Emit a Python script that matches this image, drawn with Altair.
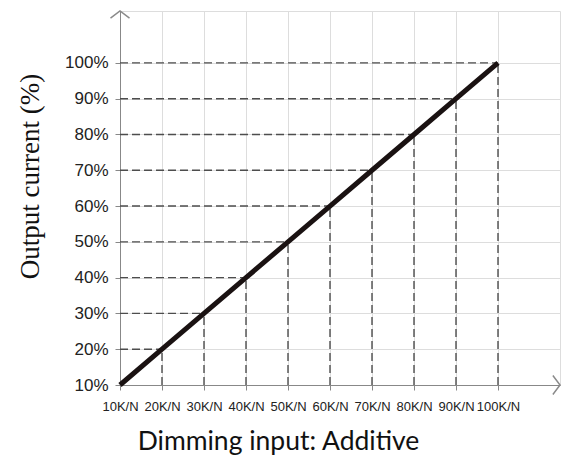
import altair as alt
import pandas as pd

# ---- data ----
x_vals = [10, 20, 30, 40, 50, 60, 70, 80, 90, 100]
y_vals = [10, 20, 30, 40, 50, 60, 70, 80, 90, 100]
x_tick_labels = ["10K/N", "20K/N", "30K/N", "40K/N", "50K/N",
                 "60K/N", "70K/N", "80K/N", "90K/N", "100K/N"]
y_tick_labels = ["10%", "20%", "30%", "40%", "50%",
                 "60%", "70%", "80%", "90%", "100%"]
x_title = "Dimming input: Additive"
y_title = "Output current (%)"

X_MIN, X_MAX = 10, 114.76
Y_MIN, Y_MAX = 10, 114.5

df = pd.DataFrame({"x": x_vals, "y": y_vals})
df["x0"] = X_MIN
df["y0"] = Y_MIN

arrows = pd.DataFrame({"x": [X_MIN, X_MAX], "y": [Y_MAX, Y_MIN], "angle": [0, 90]})

x_expr = "[" + ",".join("'%s'" % s for s in x_tick_labels) + "][round(datum.value/10) - 1]"
y_expr = "[" + ",".join("'%s'" % s for s in y_tick_labels) + "][round(datum.value/10) - 1]"

xs = alt.Scale(domain=[X_MIN, X_MAX], nice=False, zero=False)
ys = alt.Scale(domain=[Y_MIN, Y_MAX], nice=False, zero=False)

x_axis = alt.Axis(values=x_vals, labelExpr=x_expr, title=x_title,
                  labelFont="Liberation Sans", labelFontSize=13, labelColor="#222222",
                  labelPadding=10, labelFlush=False, labelOverlap=False, labelBound=False,
                  titleFont="Lato", titleFontSize=26.5, titleFontWeight="normal", titleColor="#111111",
                  titleX=158, titleY=64, titleBaseline="alphabetic", titleAlign="center",
                  titleAnchor="start")
y_axis = alt.Axis(values=y_vals, labelExpr=y_expr, title=y_title,
                  labelFont="Liberation Sans", labelFontSize=17, labelColor="#222222",
                  labelPadding=7, labelFlush=False, labelOverlap=False, labelBound=False,
                  labelBaseline="middle",
                  titleFont="Liberation Serif", titleFontSize=27, titleFontWeight="normal",
                  titleColor="#111111", titleAngle=-90, titleX=-90, titleY=165,
                  titleBaseline="middle", titleAlign="center", titleAnchor="start")

base = alt.Chart(df)

h_dash = base.mark_rule(color="#4d4d4d", strokeWidth=1.4, strokeDash=[8, 4]).encode(
    x=alt.X("x0:Q", scale=xs, axis=x_axis), x2="x:Q",
    y=alt.Y("y:Q", scale=ys, axis=y_axis))

v_dash = base.mark_rule(color="#4d4d4d", strokeWidth=1.4, strokeDash=[8, 4]).encode(
    x=alt.X("x:Q", scale=xs), y=alt.Y("y0:Q", scale=ys), y2="y:Q")

main_line = base.mark_line(color="#1a1212", strokeWidth=5).encode(
    x=alt.X("x:Q", scale=xs), y=alt.Y("y:Q", scale=ys))

arrow_marks = alt.Chart(arrows).mark_point(
    shape="M-1,0.75L0,0L1,0.75", filled=False, size=361,
    stroke="#8a8a8a", strokeWidth=1.5, opacity=1).encode(
    x=alt.X("x:Q", scale=xs), y=alt.Y("y:Q", scale=ys),
    angle=alt.Angle("angle:Q", scale=None))

chart = alt.layer(h_dash, v_dash, main_line, arrow_marks).properties(
    width=440, height=374,
    padding={"left": 112, "top": 3, "right": 1, "bottom": 72},
    autosize=alt.AutoSizeParams(type="none"),
).configure_view(stroke=None).configure_axis(
    domainColor="#8a8a8a", domainWidth=1.5, ticks=False, tickSize=0, grid=False
).configure(background="white")

chart.save("out.html", embed_options={"renderer": "svg", "actions": False})
